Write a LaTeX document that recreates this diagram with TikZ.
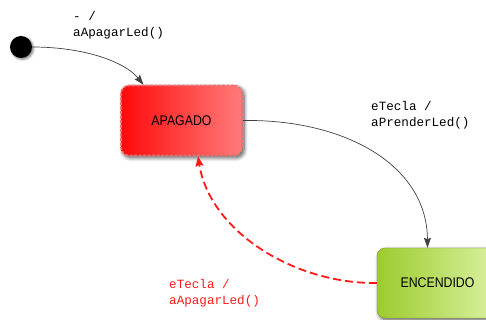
\documentclass[tikz,border=0pt]{standalone}
\usepackage{fontspec}
\setmainfont{Liberation Sans}
\newfontfamily\statefont[FakeStretch=0.88]{Liberation Sans}
\newfontfamily\codefont{Liberation Mono}
\usetikzlibrary{arrows.meta,shadows,shadows.blur}

\definecolor{offA}{HTML}{FF0A0A}
\definecolor{offB}{HTML}{FF7B7B}
\definecolor{onA}{HTML}{9CCB2E}
\definecolor{onB}{HTML}{DAF2A2}
\definecolor{selbox}{HTML}{EE7070}
\definecolor{backred}{HTML}{FF1A1A}

\tikzset{
  statebox/.style={rectangle, rounded corners=8pt, minimum width=121pt,
    minimum height=70pt, inner sep=0pt,
    font=\statefont\fontsize{14}{16}\selectfont,
    blur shadow={shadow xshift=2pt, shadow yshift=-2pt, shadow blur radius=4pt,
      shadow blur steps=8, shadow opacity=70}},
  codelbl/.style={font=\codefont\fontsize{12.6}{16}\selectfont,
    inner sep=0pt, anchor=base west},
  trans/.style={draw=black!75, line width=0.7pt,
    -{Stealth[length=10pt,width=7pt,inset=1.5pt]}},
  backtrans/.style={draw=backred, line width=1.8pt, dash pattern=on 8pt off 4pt,
    -{Stealth[length=10pt,width=8pt,inset=1.5pt]}}
}

\begin{document}
\begin{tikzpicture}[x=1pt,y=-1pt]
  \useasboundingbox (0,0) rectangle (486,320);

  % initial pseudo-state
  \node (init) [circle, fill=black, minimum size=22pt, inner sep=0pt,
    blur shadow={shadow xshift=1.5pt, shadow yshift=-1.5pt, shadow opacity=50}] at (21,47) {};

  % states
  \node (off) [statebox, left color=offA, right color=offB,
    draw=selbox, line width=1.6pt, dash pattern=on 3pt off 1.5pt] at (181.5,120.5) {APAGADO};
  \node (on) [statebox, left color=onA, right color=onB,
    draw=onA!80!black, line width=0.4pt] at (437.5,283) {ENCENDIDO};

  % transitions
  \coordinate (offtop) at ([xshift=-38pt]off.north);
  \coordinate (onN) at ([xshift=-10pt]on.north);
  \coordinate (offbot) at ([xshift=16.5pt]off.south);

  \draw[trans] (init.east) .. controls (85,47) and (125,62) .. (offtop);
  \draw[trans] (off.east) .. controls (345,119) and (427,165) .. (onN);
  \draw[backtrans] (on.west) .. controls (295,284) and (210,232) .. (offbot);

  % labels
  \node (l1a) [codelbl] at (73,21) {- /};
  \node (l1b) [codelbl] at (73,37) {aApagarLed()};
  \node (l2a) [codelbl] at (371,111) {eTecla /};
  \node (l2b) [codelbl] at (371,127) {aPrenderLed()};
  \node (l3a) [codelbl, text=backred] at (169,288) {eTecla /};
  \node (l3b) [codelbl, text=backred] at (169,304) {aApagarLed()};
\end{tikzpicture}
\end{document}
